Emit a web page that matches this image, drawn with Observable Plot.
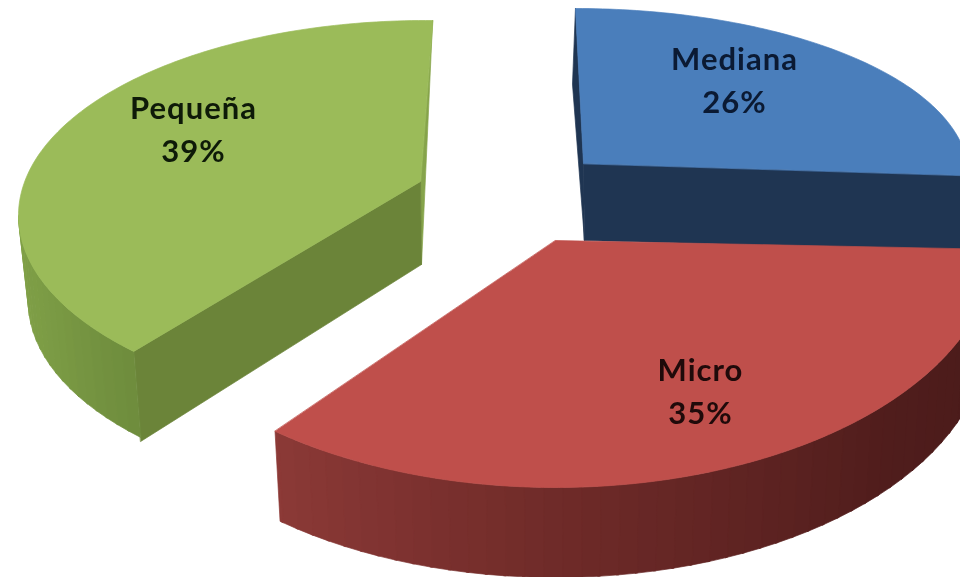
<!DOCTYPE html>
<html>
<head>
<meta charset="utf-8">
<script src="https://cdn.jsdelivr.net/npm/d3@7"></script>
<script src="https://cdn.jsdelivr.net/npm/@observablehq/plot@0.6"></script>
<style>
html,body{margin:0;padding:0;background:#fff}
svg{display:block;filter:blur(0.6px)}
svg text{letter-spacing:1px}
</style>
</head>
<body>
<div id="chart"></div>
<script>
const categories = ["Mediana", "Micro", "Pequeña"];
const shares = [26, 35, 39];
const topColors = ["#4a7ebb", "#bf4f4b", "#9bbb59"];
const cutColors = ["#1f3552", "#5a2220", "#6b8439"];

// perspective drawing of each exploded slice (ellipse in picture units)
const geometry = {
  Mediana: {ex: 575, ey: 175, rx: 393, ry: 167, apex: [583, 163], depth: 77, k: 1, startAdj: 0, endAdj: -3.6},
  Micro:   {ex: 555, ey: 242, rx: 440, ry: 245, apex: [555, 240], depth: 90, k: 0.982, startAdj: -2, endAdj: 0},
  "Pequeña": {ex: 425, ey: 215, rx: 407, ry: 195, apex: [420, 181], depth: 86, k: 0.976, startAdj: 6.2, endAdj: 1}
};
const sideStops = {
  Micro: [[93, "#481a1a"], [130, "#501d1c"], [180, "#702b29"], [219, "#8c3a37"]],
  "Pequeña": [[226, "#6f8d3d"], [245, "#7a9a44"], [270, "#82a248"]]
};
const labelAt = {Mediana: [734, 77], Micro: [700, 388], "Pequeña": [193, 126]};

const rows = [];
function addPoly(id, fill, pts) {
  pts.forEach(([x, y]) => rows.push({id, fill, x, y}));
}
const rad = d => d * Math.PI / 180;
function onArc(g, deg) {
  return [g.ex + g.rx * Math.sin(rad(deg)), g.ey - g.ry * Math.cos(rad(deg))];
}
function drop(g, p) {
  return [g.ex + (p[0] - g.ex) * g.k, p[1] + g.depth];
}

const cumulative = d3.cumsum(shares);
const slices = categories.map((name, i) => {
  const g = geometry[name];
  return {
    name, i, g,
    a0: (cumulative[i] - shares[i]) * 3.6 + g.startAdj,
    a1: cumulative[i] * 3.6 + g.endAdj
  };
});

function drawSlice(s) {
  const {name, i, g, a0, a1} = s;
  const start = onArc(g, a0), end = onArc(g, a1);
  const apexDown = [g.apex[0] + (name === "Micro" ? 0 : 1), g.apex[1] + g.depth - (name === "Mediana" ? 0 : 3)];
  const stepCount = Math.ceil(a1 - a0);
  const arc = d3.range(stepCount + 1).map(j => onArc(g, a0 + (a1 - a0) * j / stepCount));

  if (name === "Mediana") {
    addPoly(name + "-back", cutColors[i], [start, g.apex, apexDown, [start[0] - 3, start[1] + 76]]);
    addPoly(name + "-front", cutColors[i], [g.apex, end, [end[0], end[1] + g.depth - 2], apexDown]);
  }
  if (name === "Pequeña") {
    addPoly(name + "-back", "#86a44b", [end, g.apex, apexDown]);
    addPoly(name + "-front", cutColors[i], [start, g.apex, apexDown, [start[0] + 7, start[1] + 90]]);
  }
  const stops = sideStops[name];
  if (stops) {
    const color = d3.scaleLinear().domain(stops.map(d => d[0])).range(stops.map(d => d[1])).interpolate(d3.interpolateRgb).clamp(true);
    const from = Math.max(a0, 90), to = Math.min(a1, 270), step = 2.5;
    for (let t = from, n = 0; t < to; t += step, n++) {
      const t1 = Math.min(t + step + 0.3, to);
      const p0 = onArc(g, t), p1 = onArc(g, t1);
      addPoly(`${name}-side-${n}`, color(t), [p0, p1, drop(g, p1), drop(g, p0)]);
    }
  }
  addPoly(name + "-top", topColors[i], [g.apex, ...arc]);
}

// painter's order: far slices first
[slices[2], slices[0], slices[1]].forEach(drawSlice);

const labels = categories.map((name, i) => ({
  text: `${name}\n${shares[i]}%`,
  x: labelAt[name][0],
  y: labelAt[name][1],
  color: ["#0b1a33", "#1f0a0a", "#0e1a08"][i]
}));

const chart = Plot.plot({
  width: 960,
  height: 577,
  margin: 0,
  x: {domain: [0, 960], range: [0, 960], axis: null},
  y: {domain: [0, 577], range: [0, 577], axis: null},
  color: {type: "identity"},
  marks: [
    Plot.line(rows, {x: "x", y: "y", z: "id", fill: "fill", stroke: "fill", strokeWidth: 0.7, curve: "linear-closed"}),
    Plot.text(labels, {
      x: "x", y: "y", text: "text", fill: "color",
      fontFamily: "Lato, 'Open Sans', sans-serif", fontWeight: 700, fontSize: 31,
      lineHeight: 1.4, textAnchor: "middle"
    })
  ]
});
document.getElementById("chart").appendChild(chart);
</script>
</body>
</html>
